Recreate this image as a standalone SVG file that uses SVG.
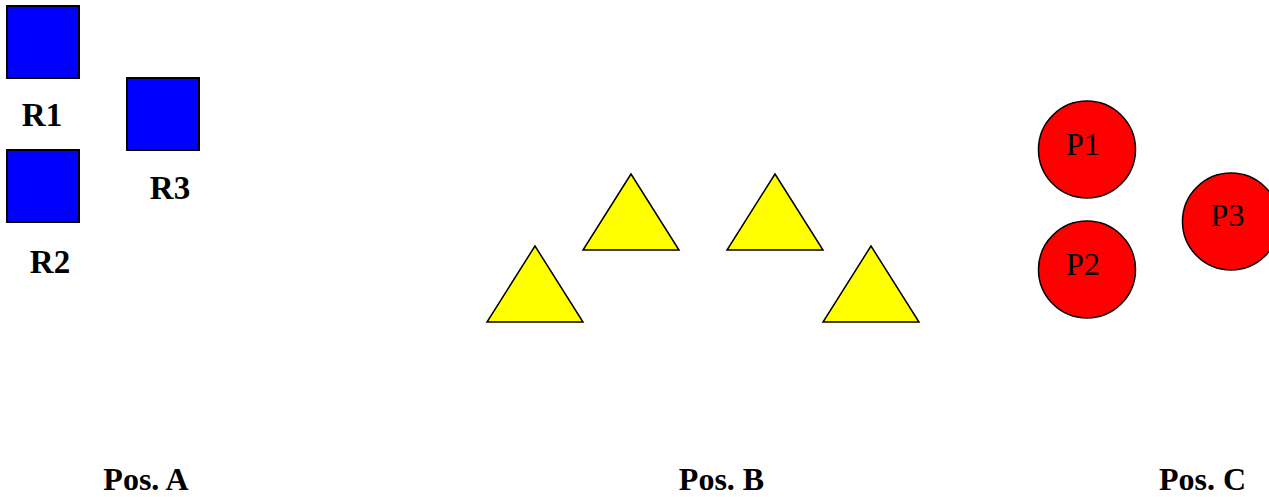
<svg xmlns="http://www.w3.org/2000/svg" width="1269" height="497" viewBox="0 0 1269 497">
<style>
.sq{fill:#0000ff;stroke:#000;stroke-width:2}
.tri{fill:#ffff00;stroke:#000;stroke-width:1.5;stroke-linejoin:miter}
.cir{fill:#ff0000;stroke:#000;stroke-width:1.5}
.lb{font-family:"Liberation Serif","Times New Roman",serif;font-weight:bold;font-size:33px;fill:#000;text-anchor:middle}
.pl{font-family:"Liberation Serif","Times New Roman",serif;font-weight:bold;font-size:32px;fill:#000;text-anchor:middle}
.cl{font-family:"Liberation Serif","Times New Roman",serif;font-size:32px;fill:#000;text-anchor:middle}
</style>
<rect width="1269" height="497" fill="#fff"/>
<g id="R1"><rect class="sq" x="7" y="6" width="72" height="72"/><text class="lb" x="42" y="126">R1</text></g>
<g id="R2"><rect class="sq" x="7" y="150" width="72" height="72"/><text class="lb" x="50" y="273">R2</text></g>
<g id="R3"><rect class="sq" x="127" y="78" width="72" height="72"/><text class="lb" x="170" y="199">R3</text></g>
<g id="T1"><polygon class="tri" points="535,246 487,322 583,322"/></g>
<g id="T2"><polygon class="tri" points="631,174 583,250 679,250"/></g>
<g id="T3"><polygon class="tri" points="775,174 727,250 823,250"/></g>
<g id="T4"><polygon class="tri" points="871,246 823,322 919,322"/></g>
<g id="P1"><circle class="cir" cx="1087" cy="149.5" r="48.5"/><text class="cl" x="1083" y="155">P1</text></g>
<g id="P2"><circle class="cir" cx="1087" cy="269.5" r="48.5"/><text class="cl" x="1083" y="275">P2</text></g>
<g id="P3"><circle class="cir" cx="1231" cy="221.5" r="48.5"/><text class="cl" x="1227.5" y="226">P3</text></g>
<g id="labels">
<text class="pl" x="146" y="490">Pos. A</text>
<text class="pl" x="721.5" y="490">Pos. B</text>
<text class="pl" x="1202.5" y="490">Pos. C</text>
</g>
<g id="connectors"/>
</svg>
